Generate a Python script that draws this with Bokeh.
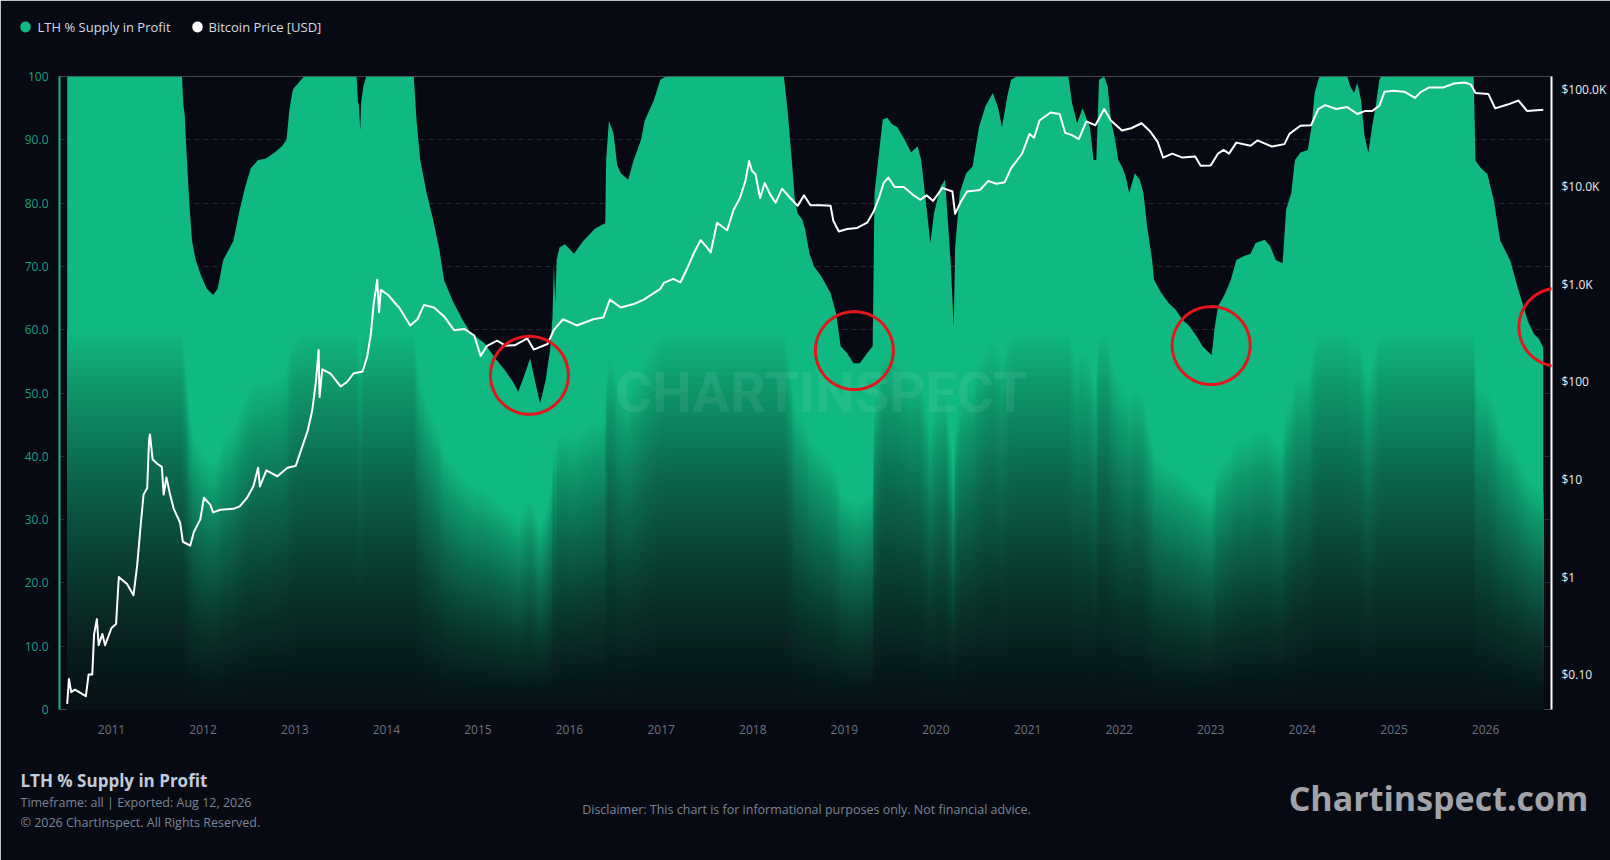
import numpy as np
from datetime import datetime
from bokeh.plotting import figure
from bokeh.models import (Range1d, LogScale, LogAxis, FixedTicker, CustomJSTickFormatter,
                          Label, PolyAnnotation)
from bokeh.embed import file_html
from bokeh.resources import INLINE

# ---------------- data ----------------
lth_year = [2010.516, 2011.77, 2011.785, 2011.80, 2011.82, 2011.85, 2011.88, 2011.92, 2011.98, 2012.04,
            2012.11, 2012.16, 2012.22, 2012.33, 2012.40, 2012.46, 2012.52, 2012.60, 2012.68, 2012.78,
            2012.86, 2012.91, 2012.94, 2012.98, 2013.10, 2013.675, 2013.69, 2013.70, 2013.715, 2013.725,
            2013.75, 2013.78, 2014.30, 2014.33, 2014.37, 2014.44, 2014.51, 2014.58, 2014.63, 2014.72,
            2014.83, 2014.92, 2015.07, 2015.20, 2015.30, 2015.39, 2015.44, 2015.50, 2015.57, 2015.63,
            2015.68, 2015.74, 2015.79, 2015.815, 2015.83, 2015.845, 2015.86, 2015.89, 2015.95, 2016.05,
            2016.15, 2016.28, 2016.39, 2016.40, 2016.43, 2016.48, 2016.52, 2016.56, 2016.64, 2016.70,
            2016.78, 2016.82, 2016.92, 2016.99, 2017.05, 2018.34, 2018.38, 2018.42, 2018.46, 2018.49,
            2018.54, 2018.57, 2018.62, 2018.67, 2018.75, 2018.85, 2018.91, 2018.96, 2019.03, 2019.10,
            2019.17, 2019.25, 2019.31, 2019.33, 2019.37, 2019.42, 2019.47, 2019.52, 2019.58, 2019.66,
            2019.73, 2019.80, 2019.84, 2019.90, 2019.94, 2019.98, 2020.05, 2020.10, 2020.16, 2020.195,
            2020.21, 2020.26, 2020.33, 2020.40, 2020.47, 2020.54, 2020.62, 2020.68, 2020.72, 2020.78,
            2020.82, 2020.88, 2021.445, 2021.485, 2021.54, 2021.60, 2021.68, 2021.72, 2021.75, 2021.78,
            2021.836, 2021.875, 2021.91, 2021.95, 2021.99, 2022.03, 2022.07, 2022.11, 2022.17, 2022.225,
            2022.265, 2022.305, 2022.36, 2022.38, 2022.46, 2022.54, 2022.615, 2022.69, 2022.77, 2022.85,
            2022.91, 2022.985, 2023.01, 2023.045, 2023.08, 2023.12, 2023.16, 2023.22, 2023.28, 2023.36,
            2023.435, 2023.49, 2023.59, 2023.65, 2023.71, 2023.785, 2023.824, 2023.88, 2023.92, 2023.98,
            2024.06, 2024.10, 2024.135, 2024.175, 2024.19, 2024.49, 2024.525, 2024.565, 2024.60, 2024.64,
            2024.68, 2024.72, 2024.76, 2024.80, 2024.84, 2024.86, 2025.87, 2025.89, 2025.95, 2026.02,
            2026.09, 2026.16, 2026.27, 2026.35, 2026.46, 2026.53, 2026.58, 2026.63]
lth_pct = [100, 100, 95.5, 94, 88, 80, 74, 71, 68.5, 66.5,
           65.5, 66.5, 71, 74, 79, 82.6, 85.5, 86.8, 87, 88,
           89, 90, 94.7, 98, 100, 100, 96, 95.5, 91.5, 96,
           98.5, 100, 100, 93, 86.8, 81.6, 77.4, 72.6, 67.9, 64.7,
           61.6, 59.5, 57.9, 55.3, 53.5, 51.6, 50.2, 52.5, 55.5, 51.5,
           48.4, 52, 57, 62, 70.3, 64, 71, 73, 73.5, 72,
           74, 76, 76.8, 86.8, 93, 91, 86, 84.7, 83.7, 86.8,
           90, 93, 96.3, 99.5, 100, 100, 94.7, 87.9, 80.5, 78.4,
           77.4, 76, 72, 70, 68.4, 65.8, 62.6, 57.4, 56.3, 54.7,
           54.7, 56.3, 57.4, 81.6, 86.8, 93.2, 93.5, 92.5, 92, 90,
           88, 89, 86.8, 79, 73.7, 78.4, 82.6, 83.7, 71, 60.5,
           73, 81.6, 84.7, 85.8, 92, 95.3, 97.4, 95, 92, 97,
           99.5, 100, 100, 95.8, 92.6, 95, 92, 86.8, 86.8, 99.5,
           100, 98.4, 93, 90.5, 86.8, 85.8, 84.2, 81.6, 84.7, 83.7,
           81.6, 76.3, 71, 67.9, 65.8, 64.2, 63.2, 61.6, 60.5, 58.9,
           57.4, 56.3, 56, 60.5, 63.7, 64.7, 65.8, 67.9, 71, 71.6,
           72, 73.7, 74.2, 73.2, 71, 70.5, 79, 81.6, 86.8, 88,
           88.4, 92, 97.4, 99.5, 100, 100, 98.4, 97.4, 99, 96.3,
           90.5, 88, 92, 95.3, 99.5, 100, 100, 86.7, 85.5, 84.6,
           80.4, 74.1, 70.9, 66.7, 61.4, 59.3, 58.6, 57.2]

price_year = [2010.516, 2010.535, 2010.56, 2010.60, 2010.66, 2010.72, 2010.75, 2010.79, 2010.81, 2010.84,
              2010.86, 2010.90, 2010.93, 2011.00, 2011.05, 2011.08, 2011.17, 2011.24, 2011.28, 2011.32,
              2011.35, 2011.39, 2011.41, 2011.42, 2011.45, 2011.50, 2011.55, 2011.57, 2011.60, 2011.64,
              2011.68, 2011.75, 2011.78, 2011.86, 2011.90, 2011.97, 2012.01, 2012.08, 2012.11, 2012.19,
              2012.33, 2012.40, 2012.48, 2012.55, 2012.60, 2012.62, 2012.69, 2012.81, 2012.92, 2013.01,
              2013.06, 2013.14, 2013.19, 2013.23, 2013.26, 2013.27, 2013.30, 2013.39, 2013.50, 2013.57,
              2013.64, 2013.74, 2013.79, 2013.83, 2013.86, 2013.90, 2013.92, 2013.94, 2014.02, 2014.11,
              2014.14, 2014.26, 2014.34, 2014.41, 2014.52, 2014.63, 2014.74, 2014.85, 2014.96, 2015.03,
              2015.10, 2015.21, 2015.30, 2015.40, 2015.54, 2015.61, 2015.76, 2015.83, 2015.93, 2016.08,
              2016.26, 2016.37, 2016.44, 2016.56, 2016.70, 2016.81, 2016.99, 2017.03, 2017.13, 2017.21,
              2017.28, 2017.36, 2017.43, 2017.50, 2017.54, 2017.61, 2017.72, 2017.79, 2017.86, 2017.92,
              2017.96, 2017.99, 2018.03, 2018.08, 2018.13, 2018.19, 2018.25, 2018.32, 2018.41, 2018.49,
              2018.56, 2018.63, 2018.74, 2018.85, 2018.88, 2018.94, 2019.03, 2019.14, 2019.25, 2019.32,
              2019.38, 2019.43, 2019.48, 2019.55, 2019.65, 2019.75, 2019.83, 2019.90, 2019.97, 2020.07,
              2020.18, 2020.21, 2020.27, 2020.34, 2020.48, 2020.57, 2020.66, 2020.75, 2020.82, 2020.94,
              2021.02, 2021.07, 2021.13, 2021.25, 2021.35, 2021.41, 2021.485, 2021.56, 2021.64, 2021.74,
              2021.836, 2021.91, 2022.03, 2022.13, 2022.245, 2022.34, 2022.42, 2022.48, 2022.58, 2022.69,
              2022.83, 2022.89, 2023.00, 2023.08, 2023.14, 2023.20, 2023.28, 2023.435, 2023.51, 2023.67,
              2023.805, 2023.86, 2023.98, 2024.097, 2024.175, 2024.25, 2024.37, 2024.49, 2024.60, 2024.68,
              2024.76, 2024.84, 2024.896, 2024.99, 2025.11, 2025.23, 2025.29, 2025.384, 2025.54, 2025.656,
              2025.773, 2025.84, 2025.89, 2026.03, 2026.105, 2026.24, 2026.36, 2026.455, 2026.63]
price_usd = [0.05, 0.09, 0.066, 0.07, 0.065, 0.06, 0.1, 0.1, 0.26, 0.37,
             0.2, 0.26, 0.2, 0.3, 0.33, 1.0, 0.85, 0.65, 1.3, 3.5,
             7.0, 8.2, 25, 29, 16, 14.5, 13.5, 7.0, 10.5, 7.0,
             5.0, 3.6, 2.3, 2.1, 2.9, 3.9, 6.5, 5.5, 4.6, 4.9,
             5.0, 5.3, 6.5, 8.6, 13.2, 8.5, 12.4, 10.8, 13.2, 13.8,
             19, 31.5, 51, 100, 213, 70, 135, 122, 90, 100,
             122, 128, 181, 307, 615, 1120, 520, 880, 780, 620,
             580, 380, 440, 615, 580, 470, 340, 350, 300, 185,
             235, 265, 236, 238, 280, 215, 245, 343, 440, 380,
             440, 460, 700, 580, 630, 700, 900, 1040, 1140, 1050,
             1440, 2130, 2850, 2400, 2130, 4300, 3600, 5800, 7700, 11600,
             18500, 14700, 13500, 7700, 11000, 8400, 6900, 9600, 7700, 6400,
             8200, 6500, 6500, 6400, 4500, 3500, 3700, 3800, 4300, 5600,
             7800, 11000, 12500, 10000, 10000, 8300, 7400, 8200, 7200, 9800,
             9000, 5300, 7000, 9000, 9300, 11500, 10800, 11200, 15600, 22000,
             35000, 32000, 48000, 58000, 56000, 36000, 34000, 31000, 47000, 43000,
             63000, 48000, 38000, 40000, 45000, 37000, 29000, 20000, 22000, 20000,
             20500, 16500, 16600, 22000, 24000, 22000, 28500, 26500, 30000, 26000,
             27500, 35000, 42500, 43000, 63000, 69000, 63000, 66000, 56000, 60000,
             60000, 68000, 95000, 97000, 95000, 82000, 94000, 105000, 105000, 115000,
             118000, 112000, 92000, 90000, 64000, 70000, 77000, 60000, 62000]

year_ticks = list(range(2011, 2027))
pct_ticks = [0, 10, 20, 30, 40, 50, 60, 70, 80, 90, 100]
price_ticks = [0.1, 1, 10, 100, 1000, 10000, 100000]

# highlight circles (centre year, centre % value)
circle_year = [2015.563, 2019.11, 2023.005, 2026.79]
circle_pct = [52.8, 56.7, 57.5, 60.4]

# ---------------- helpers ----------------
def to_dt(y):
    yi = int(np.floor(y))
    a, b = datetime(yi, 1, 1), datetime(yi + 1, 1, 1)
    return a + (b - a) * (y - yi)

EPOCH = datetime(1970, 1, 1)
def ms(d):
    return (d - EPOCH).total_seconds() * 1000.0

BG = "#070a13"
GREEN = (16, 185, 129)
BASE = (7, 18, 22)
FONT = "Open Sans"
RED = "#e3161b"

W, H = 1610, 860
FL, FT, FW, FH = 59, 76, 1492, 633          # frame box on the canvas
X0, X1 = ms(to_dt(2010.432)), ms(to_dt(2026.72))

def cx_of(year):
    return FL + (ms(to_dt(year)) - X0) / (X1 - X0) * FW

def cy_of(pct):
    return FT + FH - pct / 100.0 * FH

def mix(t):
    return "#%02x%02x%02x" % tuple(int(round(b + (g - b) * t)) for g, b in zip(GREEN, BASE))

# ---------------- figure ----------------
p = figure(width=W, height=H, x_axis_type="datetime",
           x_range=Range1d(to_dt(2010.432), to_dt(2026.72)), y_range=Range1d(0, 100),
           output_backend="svg", toolbar_location=None,
           min_border_left=FL, min_border_right=W - FL - FW, min_border_top=FT,
           min_border_bottom=H - FT - FH,
           background_fill_color=BG, border_fill_color=BG, outline_line_color=None)

p.extra_y_ranges = {"price": Range1d(0.0438, 135800)}
p.extra_y_scales = {"price": LogScale()}

# LTH area with vertical fade (stacked layers)
lth_x = [to_dt(y) for y in lth_year]
v = np.array(lth_pct, dtype=float)
p.varea(x=lth_x, y1=0, y2=v, fill_color=mix(1.0))
K, FULL = 48, 0.6
for k in range(K, 0, -1):
    f_top = FULL * k / K
    f_mid = FULL * (k - 0.5) / K
    t = (f_mid / FULL) ** 1.4
    p.varea(x=lth_x, y1=0, y2=v * f_top, fill_color=mix(t))

# price line
price_x = [to_dt(y) for y in price_year]
p.line(price_x, price_usd, y_range_name="price", line_color="#ffffff", line_width=2,
       line_join="round")

# grid
p.xgrid.visible = False
p.ygrid.ticker = FixedTicker(ticks=pct_ticks)
p.ygrid.grid_line_color = "#222a38"
p.ygrid.grid_line_dash = "5 4"
p.ygrid.grid_line_width = 1

# left axis
ya = p.yaxis[0]
ya.ticker = FixedTicker(ticks=pct_ticks)
ya.formatter = CustomJSTickFormatter(code="return (tick == 0 || tick == 100) ? tick.toFixed(0) : tick.toFixed(1)")
ya.axis_line_color = "#10b981"
ya.axis_line_width = 2
ya.major_tick_line_color = None
ya.minor_tick_line_color = None
ya.major_label_text_color = "#1f9e79"
ya.major_label_text_font = FONT
ya.major_label_text_font_size = "12px"
ya.major_label_standoff = 5

# right axis (price, log)
ra = LogAxis(y_range_name="price", ticker=FixedTicker(ticks=price_ticks),
             formatter=CustomJSTickFormatter(code="""
                if (tick >= 1000) return "$" + (tick / 1000).toFixed(1) + "K";
                if (tick >= 1) return "$" + tick.toFixed(0);
                return "$" + tick.toFixed(2);
             """))
ra.axis_line_color = "#ffffff"
ra.axis_line_width = 2
ra.major_tick_line_color = None
ra.minor_tick_line_color = None
ra.major_label_text_color = "#ececee"
ra.major_label_text_font = FONT
ra.major_label_text_font_size = "12px"
ra.major_label_standoff = 4
p.add_layout(ra, "right")

# bottom axis
xa = p.xaxis[0]
xa.ticker = FixedTicker(ticks=[ms(datetime(y, 1, 1)) for y in year_ticks])
xa.formatter = CustomJSTickFormatter(code="return new Date(tick).getUTCFullYear().toString()")
xa.axis_line_color = None
xa.major_tick_line_color = None
xa.minor_tick_line_color = None
xa.major_label_text_color = "#6b7280"
xa.major_label_text_font = FONT
xa.major_label_text_font_size = "12px"
xa.major_label_standoff = 9

def canvas_label(x, y, text, place="center", **kw):
    opts = dict(x=x, y=y, text=text, x_units="canvas", y_units="canvas",
                text_font=FONT, text_baseline="middle")
    opts.update(kw)
    p.add_layout(Label(**opts), place)

def round_mark(x, y, r, place, fill=None, line=None, lw=3):
    # a round marker drawn as the rounded box of an (empty) label
    r = int(round(r))
    p.add_layout(Label(x=x, y=y, x_units="canvas", y_units="canvas", text=" ",
                       text_font_size="1px", text_align="center", text_baseline="middle",
                       padding=r, border_radius=r,
                       background_fill_color=fill, background_fill_alpha=1.0 if fill else 0.0,
                       border_line_color=line, border_line_width=lw,
                       border_line_alpha=1.0 if line else 0.0), place)

# watermark (inside the frame)
canvas_label(821, 392, "CHARTINSPECT", text_align="center", text_font="Roboto",
             text_font_style="bold", text_font_size="56px", text_color="#ffffff", text_alpha=0.08)

# highlight circles
R = 39.0
th = np.linspace(0, 2 * np.pi, 73)
for cyear, cpct in zip(circle_year, circle_pct):
    ccx, ccy = cx_of(cyear), cy_of(cpct)
    p.add_layout(PolyAnnotation(xs=list(ccx + R * np.cos(th)), ys=list(ccy + R * np.sin(th)),
                                xs_units="canvas", ys_units="canvas",
                                fill_color=None, fill_alpha=0,
                                line_color=RED, line_alpha=1.0, line_width=3))

# legend (top-left)
round_mark(25, 26.5, 5, "above", fill="#10b981", lw=0)
canvas_label(37, 26.5, "LTH % Supply in Profit", place="above",
             text_font_size="13px", text_color="#d6dae2")
round_mark(197, 26.5, 5, "above", fill="#ffffff", lw=0)
canvas_label(208, 26.5, "Bitcoin Price [USD]", place="above",
             text_font_size="13px", text_color="#d6dae2")

# footer
canvas_label(20, 780, "LTH % Supply in Profit", place="below", text_font_style="bold",
             text_font_size="17px", text_color="#c3cbdb")
canvas_label(20, 802, "Timeframe: all | Exported: Aug 12, 2026", place="below",
             text_font_size="12.5px", text_color="#7d8597")
canvas_label(20, 822, "© 2026 ChartInspect. All Rights Reserved.", place="below",
             text_font_size="12.5px", text_color="#7d8597")
canvas_label(806, 809,
             "Disclaimer: This chart is for informational purposes only. Not financial advice.",
             place="below", text_align="center", text_font_size="12.5px", text_color="#7d8597")
canvas_label(1588, 797, "Chartinspect.com", place="below", text_align="right",
             text_baseline="alphabetic", text_font_style="bold", text_font_size="34px",
             text_color="#a2a3a9")

open("out.html", "w").write(file_html(p, INLINE))
